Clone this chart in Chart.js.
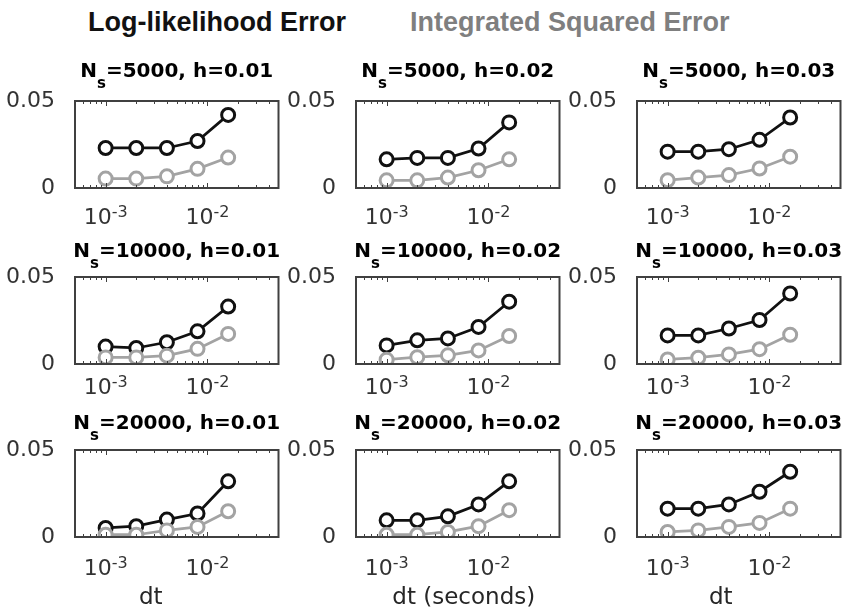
<!DOCTYPE html>
<html>
<head>
<meta charset="utf-8">
<script src="https://cdn.jsdelivr.net/npm/chart.js@4.4.1/dist/chart.umd.min.js"></script>
<style>
  body { margin: 0; background: #fff; width: 847px; height: 611px; overflow: hidden; position: relative; }
  canvas { position: absolute; }
  .hdr { position: absolute; top: 9px; font: bold 27px "Liberation Sans", Arial, sans-serif; line-height: 27px; white-space: nowrap; }
</style>
</head>
<body>
<div class="hdr" style="left:88px; color:#111">Log-likelihood Error</div>
<div class="hdr" style="left:410px; color:#7f7f7f">Integrated Squared Error</div>
<script>
// datos
const dtValues = [0.001, 0.002, 0.004, 0.008, 0.016];
const nsValues = [5000, 10000, 20000];
const hValues = ["0.01", "0.02", "0.03"];
const xMajorTicks = [0.001, 0.01];
const xMajorExp = ["-3", "-2"];
const yTicks = [0, 0.05];
const xLabels = ["dt", "dt (seconds)", "dt"];

// error de log-verosimilitud (negro), una fila por Ns, una lista por h
const llErrNs5000 = [
    [0.0230, 0.0230, 0.0230, 0.0270, 0.0420],
    [0.0165, 0.0173, 0.0173, 0.0227, 0.0377],
    [0.0209, 0.0209, 0.0223, 0.0277, 0.0405]
];
const llErrNs10000 = [
    [0.0100, 0.0092, 0.0125, 0.0188, 0.0330],
    [0.0107, 0.0136, 0.0147, 0.0213, 0.0358],
    [0.0164, 0.0164, 0.0204, 0.0253, 0.0405]
];
const llErrNs20000 = [
    [0.0052, 0.0062, 0.0100, 0.0135, 0.0320],
    [0.0096, 0.0096, 0.0119, 0.0187, 0.0320],
    [0.0163, 0.0163, 0.0187, 0.0260, 0.0375]
];

// error cuadratico integrado (gris)
const iseErrNs5000 = [
    [0.0054, 0.0054, 0.0067, 0.0110, 0.0175],
    [0.0044, 0.0044, 0.0060, 0.0102, 0.0165],
    [0.0045, 0.0060, 0.0074, 0.0112, 0.0180]
];
const iseErrNs10000 = [
    [0.0038, 0.0038, 0.0048, 0.0087, 0.0173],
    [0.0025, 0.0039, 0.0050, 0.0078, 0.0161],
    [0.0026, 0.0036, 0.0055, 0.0085, 0.0168]
];
const iseErrNs20000 = [
    [0.0013, 0.0013, 0.0038, 0.0058, 0.0148],
    [0.0013, 0.0013, 0.0029, 0.0062, 0.0154],
    [0.0029, 0.0038, 0.0058, 0.0081, 0.0163]
];

const llErr = [llErrNs5000, llErrNs10000, llErrNs20000];
const iseErr = [iseErrNs5000, iseErrNs10000, iseErrNs20000];

// layout
const colLeft = [75, 356, 637];
const rowTop = [101, 277, 450];
const boxW = 210, boxH = 87;
const axisW = 75, topSpace = 50;
const titleOffset = [24, 20, 21];
const tickOffset = [36, 30, 38];
const xLabelShift = [-26, 6, -18];

const FONT = '"DejaVu Sans", sans-serif';

const subplotDecor = {
    id: "subplotDecor",
    afterDraw(chart, args, opts) {
        const ctx = chart.ctx;
        const a = chart.chartArea;
        const x = chart.scales.x;
        ctx.save();

        // marcas menores hacia dentro (arriba y abajo)
        ctx.strokeStyle = "#404040";
        ctx.lineWidth = 1;
        const k0 = Math.floor(Math.log10(x.min)), k1 = Math.ceil(Math.log10(x.max));
        for (let k = k0; k <= k1; k++) {
            for (let m = 1; m <= 9; m++) {
                const v = m * Math.pow(10, k);
                if (v <= x.min * 1.0001 || v >= x.max * 0.9999) continue;
                const px = Math.round(x.getPixelForValue(v)) + 0.5;
                const len = m === 1 ? 5 : 3;
                ctx.beginPath();
                ctx.moveTo(px, a.bottom); ctx.lineTo(px, a.bottom - len);
                ctx.moveTo(px, a.top); ctx.lineTo(px, a.top + len);
                ctx.stroke();
            }
        }

        // caja
        ctx.lineWidth = 2;
        ctx.strokeRect(a.left, a.top, a.right - a.left, a.bottom - a.top);

        // etiquetas 10^k
        ctx.fillStyle = "#333";
        ctx.textAlign = "left";
        ctx.textBaseline = "alphabetic";
        xMajorTicks.forEach(function (v, i) {
            const px = x.getPixelForValue(v);
            ctx.font = "22px " + FONT;
            const w1 = ctx.measureText("10").width;
            ctx.font = "16px " + FONT;
            const w2 = ctx.measureText(xMajorExp[i]).width;
            const x0 = px - (w1 + w2) / 2;
            const base = a.bottom + opts.tickOffset;
            ctx.font = "22px " + FONT;
            ctx.fillText("10", x0, base);
            ctx.font = "16px " + FONT;
            ctx.fillText(xMajorExp[i], x0 + w1, base - 7);
        });

        // titulo con subindice
        ctx.fillStyle = "#000";
        const tb = a.top - opts.titleOffset;
        ctx.font = "bold 20px " + FONT;
        const wN = ctx.measureText("N").width;
        const wRest = ctx.measureText(opts.titleRest).width;
        ctx.font = "bold 15px " + FONT;
        const wS = ctx.measureText("s").width;
        const cx = (a.left + a.right) / 2;
        let tx = cx - (wN + wS + wRest) / 2;
        ctx.font = "bold 20px " + FONT;
        ctx.fillText("N", tx, tb);
        ctx.font = "bold 15px " + FONT;
        ctx.fillText("s", tx + wN, tb + 11);
        ctx.font = "bold 20px " + FONT;
        ctx.fillText(opts.titleRest, tx + wN + wS, tb);

        // etiqueta del eje x
        if (opts.xLabel) {
            ctx.fillStyle = "#262626";
            ctx.font = "23px " + FONT;
            ctx.textAlign = "center";
            ctx.fillText(opts.xLabel, cx + opts.xLabelShift, a.bottom + 67);
        }
        ctx.restore();
    }
};

function crearSubplot(r, c) {
    const bottomSpace = r === 2 ? 75 : 60;
    const canvas = document.createElement("canvas");
    canvas.width = axisW + boxW + 3;
    canvas.height = topSpace + boxH + bottomSpace;
    canvas.style.left = (colLeft[c] - axisW) + "px";
    canvas.style.top = (rowTop[r] - topSpace) + "px";
    document.body.appendChild(canvas);

    const puntos = vals => dtValues.map((d, i) => ({ x: d, y: vals[i] }));

    new Chart(canvas.getContext("2d"), {
        type: "line",
        data: {
            datasets: [{
                label: "Log-likelihood Error",
                data: puntos(llErr[r][c]),
                borderColor: "#111",
                pointBorderColor: "#111",
                pointBackgroundColor: "#fff",
                borderWidth: 2.75,
                pointRadius: 6.5,
                pointBorderWidth: 3,
                order: 1
            }, {
                label: "Integrated Squared Error",
                data: puntos(iseErr[r][c]),
                borderColor: "#a3a3a3",
                pointBorderColor: "#a3a3a3",
                pointBackgroundColor: "#fff",
                borderWidth: 2.75,
                pointRadius: 6.5,
                pointBorderWidth: 3,
                order: 0
            }]
        },
        options: {
            responsive: false,
            animation: false,
            devicePixelRatio: 1,
            layout: { padding: { top: topSpace, right: 3, left: 0, bottom: 0 } },
            plugins: {
                legend: { display: false },
                tooltip: { enabled: false },
                subplotDecor: {
                    titleRest: "=" + nsValues[r] + ", h=" + hValues[c],
                    titleOffset: titleOffset[r],
                    tickOffset: tickOffset[r],
                    xLabel: r === 2 ? xLabels[c] : null,
                    xLabelShift: xLabelShift[c]
                }
            },
            scales: {
                x: {
                    type: "logarithmic",
                    min: 0.0005,
                    max: 0.05,
                    ticks: { display: false },
                    grid: { display: false },
                    border: { display: false },
                    afterFit: s => { s.height = bottomSpace; }
                },
                y: {
                    min: 0,
                    max: 0.05,
                    afterBuildTicks: s => { s.ticks = yTicks.map(v => ({ value: v })); },
                    ticks: {
                        padding: 12,
                        color: "#333",
                        font: { family: "DejaVu Sans", size: 22 },
                        callback: v => (v === 0 ? "0" : String(v))
                    },
                    grid: { display: false },
                    border: { display: false },
                    afterFit: s => { s.width = axisW; }
                }
            }
        },
        plugins: [subplotDecor]
    });
}

for (let r = 0; r < 3; r++) {
    for (let c = 0; c < 3; c++) {
        crearSubplot(r, c);
    }
}
</script>
</body>
</html>
